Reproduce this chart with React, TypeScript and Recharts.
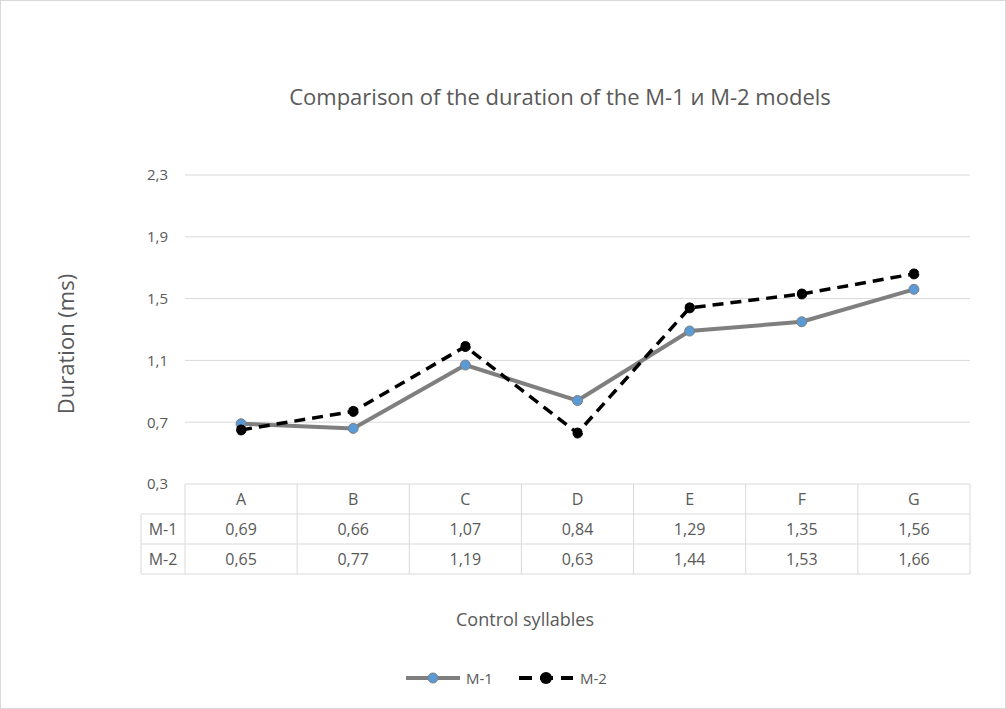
import React from "react";
import {
  ComposedChart,
  Line,
  XAxis,
  YAxis,
  CartesianGrid,
} from "recharts";

const categories = ["A", "B", "C", "D", "E", "F", "G"];
const m1Values = [0.69, 0.66, 1.07, 0.84, 1.29, 1.35, 1.56];
const m2Values = [0.65, 0.77, 1.19, 0.63, 1.44, 1.53, 1.66];
const yTicks = [0.3, 0.7, 1.1, 1.5, 1.9, 2.3];

const W = 1006;
const H = 709;
const MARGIN = { top: 175, right: 36, bottom: 0, left: 0 };
const Y_AXIS_W = 185;
const X_AXIS_H = 225;
const PLOT_BOTTOM = H - X_AXIS_H;
const PLOT_RIGHT = W - MARGIN.right;
const BAND = (PLOT_RIGHT - Y_AXIS_W) / categories.length;
const ROW = 30;
const LEFT_COL = 141;

const FONT = "'Open Sans', 'Noto Sans', sans-serif";
const TEXT = "#595959";
const BORDER = "#d9d9d9";

const data = categories.map((name, i) => ({ name, m1: m1Values[i], m2: m2Values[i] }));

const fmt = (v: number) => v.toFixed(2).replace(".", ",");

// data table under the plot, drawn one column per x tick
function TableTick(props: any) {
  const { x, index, payload } = props;
  const left = x - BAND / 2;
  const right = x + BAND / 2;
  const y0 = PLOT_BOTTOM;
  const textProps = { fontFamily: FONT, fontSize: 16, fill: TEXT, textAnchor: "middle" as const };
  return (
    <g>
      {index === 0 && (
        <g>
          <line x1={LEFT_COL} x2={left} y1={y0 + ROW} y2={y0 + ROW} stroke={BORDER} />
          <line x1={LEFT_COL} x2={left} y1={y0 + ROW * 2} y2={y0 + ROW * 2} stroke={BORDER} />
          <line x1={LEFT_COL} x2={left} y1={y0 + ROW * 3} y2={y0 + ROW * 3} stroke={BORDER} />
          <line x1={LEFT_COL} x2={LEFT_COL} y1={y0 + ROW} y2={y0 + ROW * 3} stroke={BORDER} />
          <line x1={left} x2={left} y1={y0} y2={y0 + ROW * 3} stroke={BORDER} />
          <text {...textProps} x={(LEFT_COL + left) / 2} y={y0 + ROW * 1.5 + 6}>M-1</text>
          <text {...textProps} x={(LEFT_COL + left) / 2} y={y0 + ROW * 2.5 + 6}>M-2</text>
        </g>
      )}
      <line x1={left} x2={right} y1={y0 + ROW} y2={y0 + ROW} stroke={BORDER} />
      <line x1={left} x2={right} y1={y0 + ROW * 2} y2={y0 + ROW * 2} stroke={BORDER} />
      <line x1={left} x2={right} y1={y0 + ROW * 3} y2={y0 + ROW * 3} stroke={BORDER} />
      <line x1={right} x2={right} y1={y0} y2={y0 + ROW * 3} stroke={BORDER} />
      <text {...textProps} x={x} y={y0 + ROW * 0.5 + 6}>{payload.value}</text>
      <text {...textProps} x={x} y={y0 + ROW * 1.5 + 6}>{fmt(m1Values[index])}</text>
      <text {...textProps} x={x} y={y0 + ROW * 2.5 + 6}>{fmt(m2Values[index])}</text>
    </g>
  );
}

function LegendBox() {
  return (
    <div style={{ position: "absolute", top: 669, left: 406, display: "flex", alignItems: "center", fontSize: 15, color: TEXT, lineHeight: "18px" }}>
      <svg width={54} height={14} style={{ display: "block" }}>
        <line x1={0} x2={54} y1={7} y2={7} stroke="#7f7f7f" strokeWidth={4} />
        <circle cx={27} cy={7} r={5} fill="#5b9bd5" stroke="#7f7f7f" strokeWidth={1} />
      </svg>
      <span style={{ marginLeft: 6 }}>M-1</span>
      <svg width={54} height={14} style={{ display: "block", marginLeft: 26 }}>
        <line x1={0} x2={54} y1={7} y2={7} stroke="#000" strokeWidth={4} strokeDasharray="13 8" />
        <circle cx={27} cy={7} r={6} fill="#000" />
      </svg>
      <span style={{ marginLeft: 7 }}>M-2</span>
    </div>
  );
}

export default function App() {
  return (
    <div style={{ position: "relative", width: W, height: H, background: "#fff", fontFamily: FONT }}>
      <style>{`body{margin:0}`}</style>
      <div style={{ position: "absolute", inset: 0, border: `1px solid ${BORDER}`, boxSizing: "border-box" }} />
      <div style={{ position: "absolute", top: 81, left: 0, width: W, paddingLeft: 114, boxSizing: "border-box", textAlign: "center", fontSize: 22, color: TEXT }}>
        Comparison of the duration of the M-1 и M-2 models
      </div>
      <div
        style={{
          position: "absolute",
          left: 65,
          top: 344,
          transform: "translate(-50%, -50%) rotate(-90deg)",
          whiteSpace: "nowrap",
          fontSize: 22,
          color: TEXT,
        }}
      >
        Duration (ms)
      </div>
      <div style={{ position: "absolute", top: 607, left: 0, width: W, paddingLeft: 44, boxSizing: "border-box", textAlign: "center", fontSize: 18, color: TEXT }}>
        Control syllables
      </div>
      <ComposedChart width={W} height={H} data={data} margin={MARGIN}>
        <CartesianGrid vertical={false} stroke={BORDER} strokeWidth={1} />
        <XAxis
          dataKey="name"
          height={X_AXIS_H}
          axisLine={false}
          tickLine={false}
          tick={<TableTick />}
          interval={0}
          padding={{ left: BAND / 2, right: BAND / 2 }}
        />
        <YAxis
          width={Y_AXIS_W}
          domain={[0.3, 2.3]}
          ticks={yTicks}
          axisLine={false}
          tickLine={false}
          tickSize={0}
          tickMargin={17}
          tickFormatter={(v: number) => v.toFixed(1).replace(".", ",")}
          tick={{ fill: TEXT, fontSize: 15, fontFamily: FONT }}
        />
        <Line
          dataKey="m1"
          name="M-1"
          stroke="#7f7f7f"
          strokeWidth={4}
          dot={{ r: 5, fill: "#5b9bd5", stroke: "#7f7f7f", strokeWidth: 1 }}
          isAnimationActive={false}
        />
        <Line
          dataKey="m2"
          name="M-2"
          stroke="#000"
          strokeWidth={3.5}
          strokeDasharray="11 7"
          dot={{ r: 5, fill: "#000", stroke: "#000", strokeWidth: 1 }}
          isAnimationActive={false}
        />
      </ComposedChart>
      <LegendBox />
    </div>
  );
}
